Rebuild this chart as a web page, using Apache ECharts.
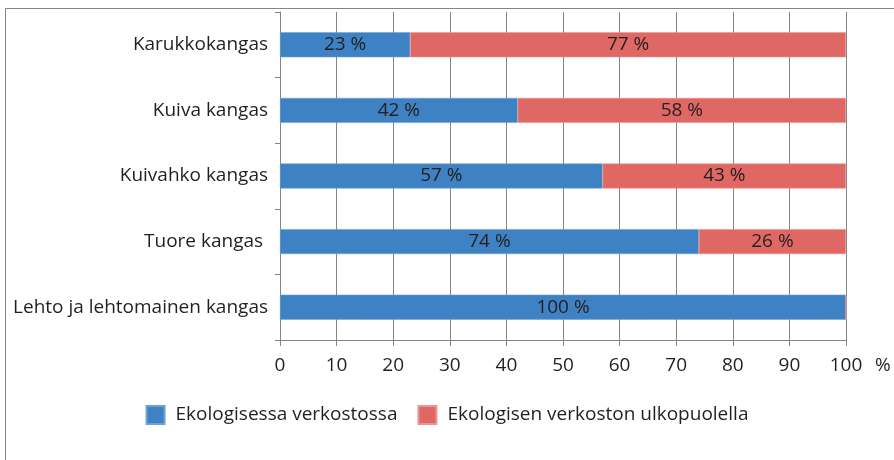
<!DOCTYPE html>
<html>
<head>
<meta charset="utf-8">
<script src="https://cdn.jsdelivr.net/npm/echarts@6/dist/echarts.min.js"></script>
<style>
  html, body { margin: 0; padding: 0; background: #fff; }
  #chart { width: 894px; height: 460px; }
</style>
</head>
<body>
<div id="chart"></div>
<script>
const categories = ['Karukkokangas', 'Kuiva kangas', 'Kuivahko kangas', 'Tuore kangas ', 'Lehto ja lehtomainen kangas'];
const seriesNames = ['Ekologisessa verkostossa', 'Ekologisen verkoston ulkopuolella'];
const inside = [23, 42, 57, 74, 100];
const outside = [77, 58, 43, 26, 0];
const xTicks = [0, 10, 20, 30, 40, 50, 60, 70, 80, 90, 100];

const font = 'Open Sans';
const fontSize = 19;
const textColor = '#231f20';
const lineColor = '#858585';
const blue = '#3e82c3';
const red = '#e06864';

const chart = echarts.init(document.getElementById('chart'));

const barLabel = {
    show: true,
    position: 'inside',
    color: textColor,
    fontFamily: font,
    fontSize: fontSize,
    formatter: p => p.value > 0 ? p.value + ' %' : ''
};

chart.setOption({
    animation: false,
    backgroundColor: '#fff',
    grid: { left: 280, right: 48, top: 12, bottom: 120, containLabel: false },
    xAxis: {
        type: 'value',
        min: xTicks[0],
        max: xTicks[xTicks.length - 1],
        interval: 10,
        axisLine: { show: true, lineStyle: { color: lineColor, width: 1 } },
        axisTick: { show: true, length: 6, lineStyle: { color: lineColor } },
        splitLine: { show: true, lineStyle: { color: lineColor, width: 1 } },
        axisLabel: { color: textColor, fontFamily: font, fontSize: fontSize, margin: 16 }
    },
    yAxis: {
        type: 'category',
        inverse: true,
        data: categories,
        axisLine: { show: true, lineStyle: { color: lineColor, width: 1 } },
        axisTick: { show: true, length: 5, alignWithLabel: false, lineStyle: { color: lineColor } },
        axisLabel: { color: textColor, fontFamily: font, fontSize: fontSize, margin: 12 }
    },
    legend: {
        data: seriesNames,
        left: 'center',
        top: 400,
        itemWidth: 18,
        itemHeight: 18,
        itemGap: 20,
        icon: 'rect',
        textStyle: { color: textColor, fontFamily: font, fontSize: fontSize, padding: [0, 0, 0, 6] }
    },
    graphic: [
        {
            type: 'polyline',
            shape: { points: [[5.5, 460], [5.5, 8.5], [894, 8.5]] },
            style: { stroke: lineColor, fill: null, lineWidth: 1 }
        },
        {
            type: 'text',
            left: 875,
            top: 356,
            style: { text: '%', fill: textColor, font: fontSize + 'px "' + font + '"' }
        }
    ],
    series: [
        {
            name: seriesNames[0],
            type: 'bar',
            stack: 'total',
            barWidth: 25,
            data: inside,
            itemStyle: { color: blue, borderColor: '#6ea2d6', borderWidth: 0.6 },
            label: barLabel
        },
        {
            name: seriesNames[1],
            type: 'bar',
            stack: 'total',
            barWidth: 25,
            data: outside,
            itemStyle: { color: red, borderColor: '#ec9592', borderWidth: 0.6 },
            label: barLabel
        }
    ]
});
</script>
</body>
</html>
